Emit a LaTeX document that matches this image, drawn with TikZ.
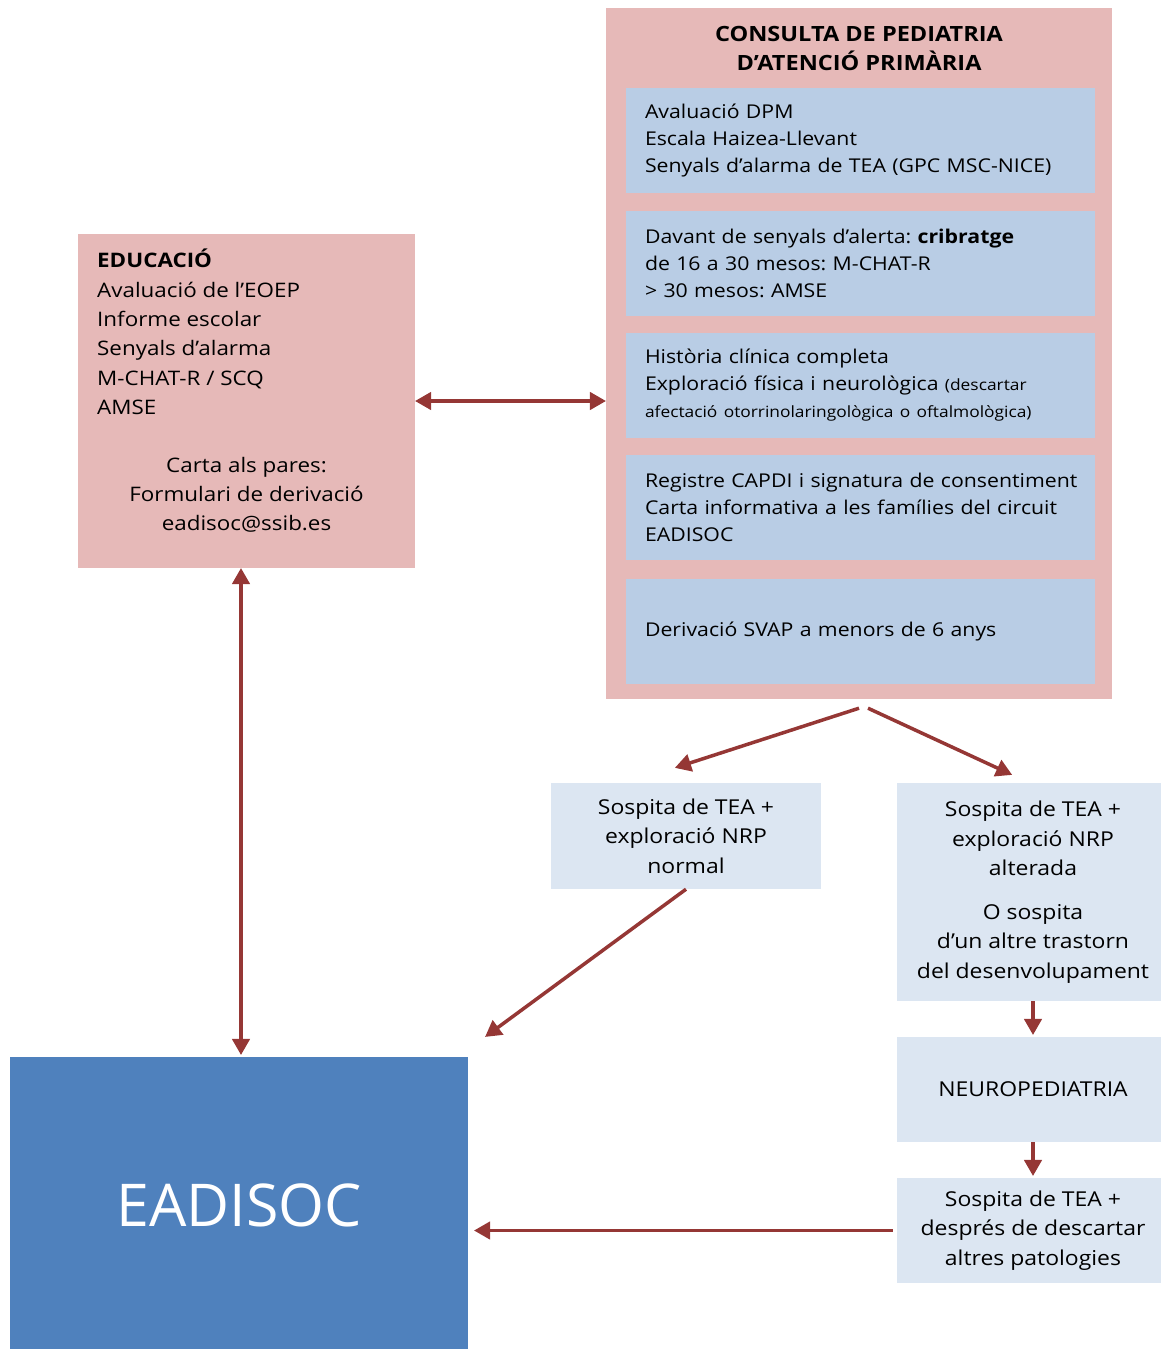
\documentclass[tikz,border=0pt]{standalone}
\usepackage{fontspec}
\setmainfont{Open Sans}[FakeStretch = 1.12]
\newfontfamily\titolfont{Open Sans}
\usetikzlibrary{arrows, calc}

\definecolor{rosa}{HTML}{E6B9B8}
\definecolor{blava}{HTML}{B9CDE5}
\definecolor{clara}{HTML}{DCE6F2}
\definecolor{fosca}{HTML}{4F81BD}
\definecolor{granat}{HTML}{953735}

\begin{document}
\frenchspacing
\begin{tikzpicture}[x = 1pt, y = -1pt, every node/.style = {inner sep = 0pt,
	font = \fontsize{19}{27}\selectfont},
	caixarosa/.style = {rectangle, fill = rosa},
	caixablava/.style = {rectangle, fill = blava, minimum height = 105pt,
	inner xsep = 19pt, text width = 431pt, align = left},
	caixaclara/.style = {rectangle, fill = clara, minimum width = 272pt,
	align = center, font = \fontsize{20.5}{29.5}\selectfont},
	fletxa/.style = {draw = granat, line width = 3.5pt, -triangle 60},
	doble/.style = {fletxa, triangle 60-triangle 60}]

	\useasboundingbox (0, 0) rectangle (1161, 1349);

		% consulta de pediatria
		\node (consulta)  at (859,   353.5) [caixarosa, minimum width = 506pt, minimum height = 691pt] {};
		\node (titol)     at (859,    48)   [align = center, font = \fontsize{21}{29}\selectfont\bfseries]
			{CONSULTA DE PEDIATRIA\\D’ATENCIÓ PRIMÀRIA};
		\node (dpm)       at (860.5, 140.5) [caixablava] {Avaluació DPM\\ Escala Haizea-Llevant\\
			Senyals d'alarma de TEA (GPC MSC-NICE)};
		\node (cribratge) at (860.5, 263)   [caixablava] {Davant de senyals d’alerta: \textbf{cribratge}\\
			de 16 a 30 mesos: M-CHAT-R\\ > 30 mesos: AMSE};
		\node (historia)  at (860.5, 385)   [caixablava] {Història clínica completa\\
			Exploració física i neurològica {\fontsize{15.5}{25}\selectfont(descartar}\\
			{\fontsize{15.5}{25}\selectfont afectació otorrinolaringològica o oftalmològica)}};
		\node (capdi)     at (860.5, 507.5) [caixablava] {\mbox{Registre CAPDI i signatura de consentiment}\\
			Carta informativa a les famílies del circuit\\ EADISOC};
		\node (svap)      at (860.5, 631)   [caixablava] {Derivació SVAP a menors de 6 anys};

		% educacio
		\node (educacio)  at (246.5, 401)   [caixarosa, minimum width = 337pt, minimum height = 334pt] {};
		\node (educ)      at (97,    332)   [anchor = west, align = left, font = \fontsize{20}{29.3}\selectfont]
			{\textbf{EDUCACIÓ}\\ Avaluació de l’EOEP\\ Informe escolar\\ Senyals d’alarma\\ M-CHAT-R / SCQ\\ AMSE};
		\node (carta)     at (246.5, 495)   [align = center, font = \fontsize{20}{29.3}\selectfont]
			{Carta als pares:\\ Formulari de derivació\\ eadisoc@ssib.es};

		% eadisoc
		\node (eadisoc)   at (239,  1205)   [rectangle, fill = fosca, minimum width = 458pt, minimum height = 296pt,
			text = white, font = \titolfont\fontsize{59}{60}\selectfont] {EADISOC};

		% sospites
		\node (normal)    at (686,   836)   [caixaclara, minimum width = 270pt, minimum height = 106pt]
			{Sospita de TEA +\\ exploració NRP\\ normal};
		\node (alterada)  at (1033,  892)   [caixaclara, minimum height = 218pt]
			{Sospita de TEA +\\ exploració NRP\\ alterada\\[14pt] O sospita\\ d’un altre trastorn\\ del desenvolupament};
		\node (neuro)     at (1033, 1089.5) [caixaclara, minimum height = 105pt] {NEUROPEDIATRIA};
		\node (descartar) at (1033, 1230.5) [caixaclara, minimum height = 105pt]
			{Sospita de TEA +\\ després de descartar\\ altres patologies};

	    \draw [doble] (educacio.east) -- (educacio.east -| consulta.west);
	    \draw [doble] ($(educacio.south)+(-5.5, 0)$) -- ($(educacio.south |- eadisoc.north)+(-5.5, -2)$);

	    \draw [fletxa] ($(consulta.south)+(0, 9)$) -- ($(normal.north)+(-11, -15)$);
	    \draw [fletxa] ($(consulta.south)+(9, 9)$) -- ($(alterada.north)+(-21, -8)$);
	    \draw [fletxa] (normal.south) -- ($(eadisoc.north east)+(17, -20)$);

	    \foreach \from/\to in {alterada/neuro, neuro/descartar}
	    	\draw [fletxa, shorten >= 2pt] (\from.south) -- (\to.north);

	    \draw [fletxa, shorten <= 4pt, shorten >= 6pt] (descartar.west) -- (descartar.west -| eadisoc.east);

\end{tikzpicture}
\end{document}
